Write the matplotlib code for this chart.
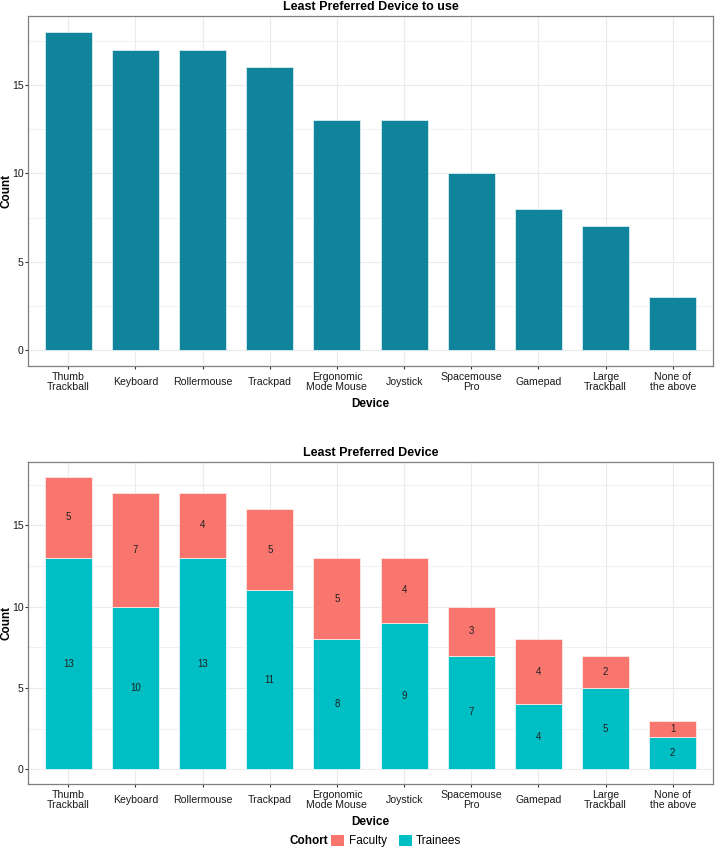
import numpy as np
import matplotlib
matplotlib.use('Agg')
import matplotlib.pyplot as plt
from matplotlib.patches import Patch

devices = ['Thumb\nTrackball', 'Keyboard', 'Rollermouse', 'Trackpad', 'Ergonomic\nMode Mouse',
           'Joystick', 'Spacemouse\nPro', 'Gamepad', 'Large\nTrackball', 'None of\nthe above']
totals = [18, 17, 17, 16, 13, 13, 10, 8, 7, 3]
trainees = [13, 10, 13, 11, 8, 9, 7, 4, 5, 2]
faculty = [5, 7, 4, 5, 5, 4, 3, 4, 2, 1]

plt.rcParams['font.family'] = ['Liberation Sans', 'DejaVu Sans']

GRID = '#ebebeb'
C_TOP = '#10849a'
C_FAC = '#f8766d'
C_TRA = '#00bfc4'
AX_W = 685


def style_axes(ax, title):
    n = len(devices)
    x = np.arange(n)
    ax.set_xlim(-0.6, n - 0.4)
    ax.set_ylim(-0.9, 18.9)
    ax.set_xticks(x)
    ax.set_xticklabels(devices, fontsize=7.6, color='#1a1a1a', linespacing=1.05, va='center')
    ax.set_yticks([0, 5, 10, 15])
    ax.set_yticklabels(['0', '5', '10', '15'], fontsize=7.6, color='#1a1a1a')
    ax.set_yticks([2.5, 7.5, 12.5, 17.5], minor=True)
    ax.set_xticks([], minor=True)
    ax.grid(True, which='major', color=GRID, lw=0.8)
    ax.grid(True, which='minor', axis='y', color=GRID, lw=0.5)
    ax.set_axisbelow(True)
    for s in ax.spines.values():
        s.set_color('#7f7f7f')
        s.set_linewidth(0.9)
    ax.tick_params(axis='x', which='major', length=2, color='#333333', pad=9.5)
    ax.tick_params(axis='y', which='major', length=2, color='#333333', pad=1)
    ax.tick_params(which='minor', length=0)
    ax.set_xlabel('Device', fontsize=8.5, fontweight='bold', labelpad=4)
    ax.set_ylabel('Count', fontsize=8.5, fontweight='bold', va='center')
    ax.yaxis.set_label_coords(-22 / AX_W, 0.5)  # 标签中心在 x=6px
    ax.set_title(title, fontsize=9, fontweight='bold', pad=4)
    return x


fig = plt.figure(figsize=(7.16, 8.48), dpi=100)

# ---------- 上图 ----------
ax1 = fig.add_axes([28 / 716, 1 - 366 / 848, AX_W / 716, 350 / 848])
x = style_axes(ax1, 'Least Preferred Device to use')
ax1.bar(x, totals, width=0.7, color=C_TOP, edgecolor='#d8eef2', linewidth=0.6)

# ---------- 下图 ----------
ax2 = fig.add_axes([28 / 716, 1 - 784 / 848, AX_W / 716, 322 / 848])
x = style_axes(ax2, 'Least Preferred Device')
ax2.bar(x, trainees, width=0.7, color=C_TRA, edgecolor='#e0f7f8', linewidth=0.6)
ax2.bar(x, faculty, width=0.7, bottom=trainees, color=C_FAC, edgecolor='#fde8e6', linewidth=0.6)
for i in range(len(devices)):
    ax2.text(x[i], trainees[i] / 2, str(trainees[i]), ha='center', va='center', fontsize=7, color='#222222')
    ax2.text(x[i], trainees[i] + faculty[i] / 2, str(faculty[i]), ha='center', va='center',
             fontsize=7, color='#222222')

# ---------- 图例 ----------
fig.text(328 / 716, 1 - 841 / 848, 'Cohort', ha='right', va='center', fontsize=8.5, fontweight='bold')
handles = [Patch(facecolor=C_FAC, label='Faculty'), Patch(facecolor=C_TRA, label='Trainees')]
fig.legend(handles=handles, loc='center left', bbox_to_anchor=(331 / 716, 1 - 841 / 848), ncol=2,
           frameon=False, fontsize=8.5, handlelength=1.1, handleheight=1.1,
           handletextpad=0.4, columnspacing=1.0, borderaxespad=0, borderpad=0)

fig.savefig('out.png', dpi=100)
plt.close()
